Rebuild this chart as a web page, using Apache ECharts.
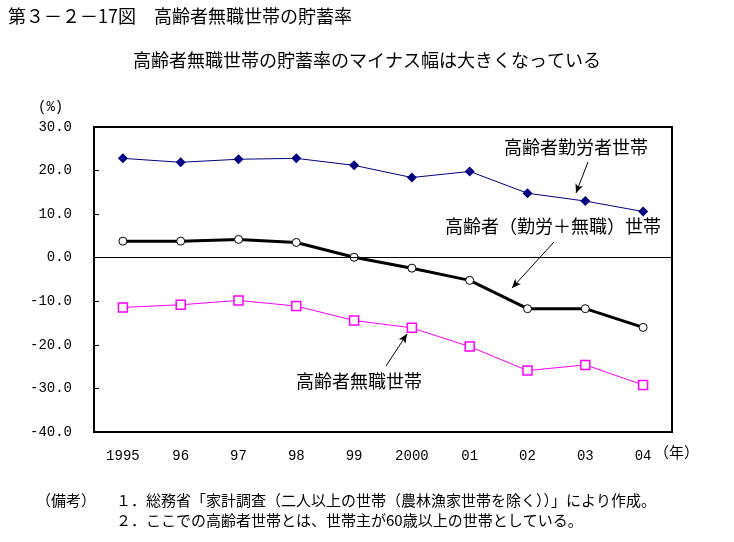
<!DOCTYPE html>
<html>
<head>
<meta charset="utf-8">
<script src="https://cdn.jsdelivr.net/npm/echarts@6/dist/echarts.min.js"></script>
<style>
html,body{margin:0;padding:0;background:#fff;}
#chart{width:734px;height:542px;}
</style>
</head>
<body>
<div id="chart"></div>
<script>
var categories = ['1995','96','97','98','99','2000','01','02','03','04'];
var workerHouseholds = [22.8, 21.9, 22.6, 22.8, 21.2, 18.4, 19.8, 14.8, 13.0, 10.6];
var allHouseholds = [3.8, 3.8, 4.2, 3.5, 0.1, -2.4, -5.2, -11.7, -11.7, -16.0];
var jobless = [-11.4, -10.8, -9.8, -11.1, -14.4, -16.1, -20.4, -25.9, -24.6, -29.2];
var yMin = -40, yMax = 30, yStep = 10;

var cjk = '"Noto Sans CJK JP", sans-serif';
var mono = '"Liberation Mono", "DejaVu Sans Mono", monospace';

var chart = echarts.init(document.getElementById('chart'), null, {renderer: 'canvas'});
chart.setOption({
  animation: false,
  backgroundColor: '#fff',
  grid: {left: 94, top: 127, width: 578, height: 305, show: true, borderColor: '#000', borderWidth: 2, backgroundColor: 'transparent', containLabel: false},
  xAxis: {
    type: 'category', data: categories, boundaryGap: true,
    axisLine: {show: false}, axisTick: {show: false}, splitLine: {show: false},
    axisLabel: {color: '#000', fontFamily: mono, fontSize: 14, margin: 17}
  },
  yAxis: {
    type: 'value', min: yMin, max: yMax, interval: yStep,
    axisLine: {show: false}, splitLine: {show: false},
    axisTick: {show: true, inside: true, length: 5, lineStyle: {color: '#000', width: 1}},
    axisLabel: {color: '#000', fontFamily: mono, fontSize: 14, margin: 22, formatter: function (v) { return v.toFixed(1); }}
  },
  graphic: [
    {type: 'text', left: 8, top: 7, style: {text: '第３－２－17図　高齢者無職世帯の貯蓄率', font: '18px ' + cjk, fill: '#000'}},
    {type: 'text', left: 133, top: 51, style: {text: '高齢者無職世帯の貯蓄率のマイナス幅は大きくなっている', font: '18px ' + cjk, fill: '#000'}},
    {type: 'text', left: 38, top: 100, style: {text: '(%)', font: '14px ' + mono, fill: '#000'}},
    {type: 'text', left: 654, top: 445, style: {text: '（年）', font: '15px ' + cjk, fill: '#000'}},
    {type: 'text', left: 504, top: 138, style: {text: '高齢者勤労者世帯', font: '18px ' + cjk, fill: '#000'}},
    {type: 'text', left: 445, top: 217, style: {text: '高齢者（勤労＋無職）世帯', font: '18px ' + cjk, fill: '#000'}},
    {type: 'text', left: 296, top: 372, style: {text: '高齢者無職世帯', font: '18px ' + cjk, fill: '#000'}},
    {type: 'text', left: 36, top: 493, style: {text: '（備考）', font: '15px ' + cjk, fill: '#000'}},
    {type: 'text', left: 116, top: 493, style: {text: '１．総務省「家計調査（二人以上の世帯（農林漁家世帯を除く））」により作成。', font: '15px ' + cjk, fill: '#000'}},
    {type: 'text', left: 116, top: 513, style: {text: '２．ここでの高齢者世帯とは、世帯主が60歳以上の世帯としている。', font: '15px ' + cjk, fill: '#000'}}
  ],
  series: [
    {
      name: '高齢者勤労者世帯', type: 'line', data: workerHouseholds,
      symbol: 'diamond', symbolSize: 10, z: 3,
      lineStyle: {color: '#000080', width: 1},
      itemStyle: {color: '#000080', borderColor: '#000080', borderWidth: 0}
    },
    {
      name: '高齢者（勤労＋無職）世帯', type: 'line', data: allHouseholds,
      symbol: 'circle', symbolSize: 8, showAllSymbol: true, z: 4,
      lineStyle: {color: '#000', width: 3},
      itemStyle: {color: '#fff', borderColor: '#000', borderWidth: 1},
      markLine: {
        silent: true, symbol: ['none', 'none'], label: {show: false},
        lineStyle: {color: '#000', width: 1, type: 'solid'},
        data: [{yAxis: 0}]
      }
    },
    {
      name: '高齢者無職世帯', type: 'line', data: jobless,
      symbol: 'rect', symbolSize: 9, z: 3,
      lineStyle: {color: '#ff00ff', width: 1},
      itemStyle: {color: '#fff', borderColor: '#ff00ff', borderWidth: 1.5},
      markLine: {
        silent: true, symbol: ['none', 'arrow'], symbolSize: [6, 9], label: {show: false},
        lineStyle: {color: '#000', width: 1, type: 'solid'},
        data: [
          [{x: 588, y: 162}, {x: 576, y: 193}],
          [{x: 554, y: 242}, {x: 512, y: 288}],
          [{x: 386, y: 366}, {x: 407, y: 334}]
        ]
      }
    }
  ]
});
</script>
</body>
</html>
